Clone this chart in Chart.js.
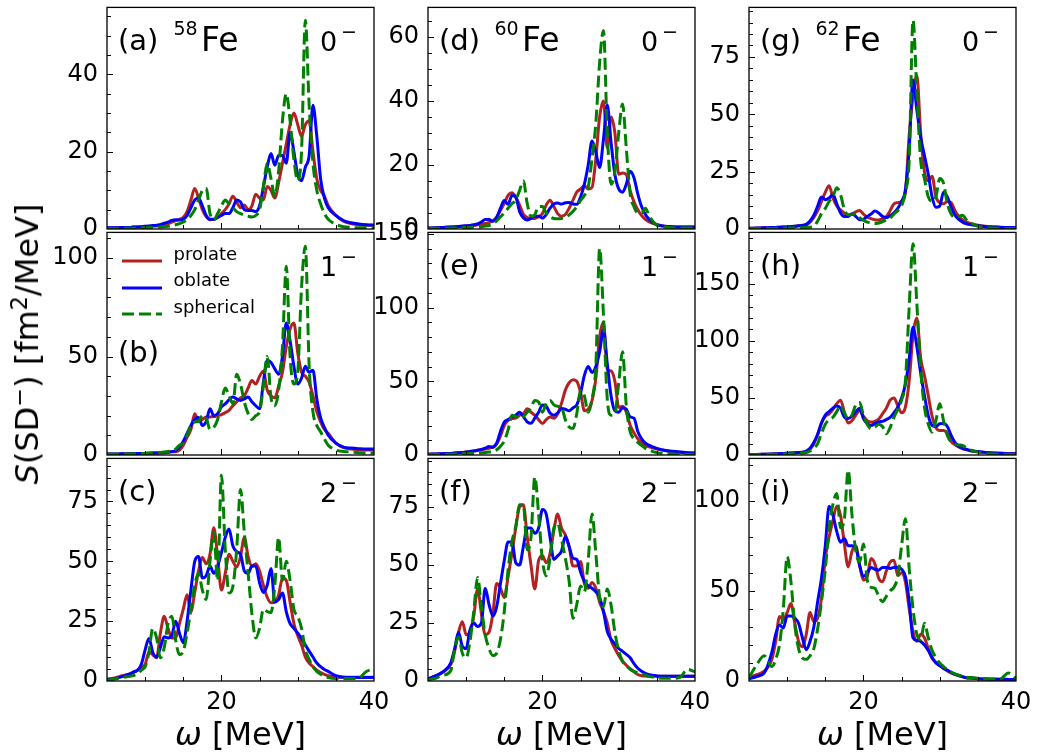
<!DOCTYPE html>
<html>
<head>
<meta charset="utf-8">
<script src="https://cdn.jsdelivr.net/npm/chart.js@4.4.0/dist/chart.umd.min.js"></script>
<style>
body { margin: 0; background: #fff; }
#fig { position: relative; width: 1037px; height: 755px; overflow: hidden; font-family: "DejaVu Sans", sans-serif; color: #000; }
#fig canvas { position: absolute; }
.t { position: absolute; white-space: nowrap; line-height: 1; }
.t sup { font-size: 0.7em; vertical-align: 0.5em; line-height: 0; }
</style>
</head>
<body>
<div id="fig"></div>
<script>
// omega grid (MeV), shared by every panel
const omega = [5,6,7, 8,8.5,9,9.5,10,10.5,11,11.5, 12,12.5,13,13.5,14,14.5,15,15.5,
  16,16.5,17,17.5,18,18.5,19,19.5, 20,20.5,21,21.5,22,22.5,23,23.5,
  24,24.5,25,25.5,26,26.5,27,27.5, 28,28.5,29,29.5,30,30.5,31,31.5,
  32,32.5,33,33.5,34, 35,36,37,38,39,40];
const xTickLabels = [20, 40];

// (a) 58Fe 0-
const prolateA = [0.3,0.3,0.4, 0.4,0.5,0.5,0.5,0.6,0.6,0.7,0.8, 0.9,1.1,1.4,1.8,2.2,2.5,3,4.5, 7.5,10.5,8,5,3.2,2.4,2.5,3, 4,5,6.5,8.5,7,5.5,6.2,5, 6,9,8,7.5,11,10,8,12, 17,22,27,30,27,24,27,28, 20,13,10,8.5,6, 3.5,2,1.4,1.1,1,1];
const oblateA = [0.3,0.3,0.4, 0.4,0.5,0.5,0.6,0.7,0.8,0.9,1.0, 1.2,1.5,1.8,2.2,2.4,2.3,2.5,3.5, 5.5,7.5,8,6,3.5,2.5,2.5,3, 3.5,4,4,5.5,7.5,7,5,4.8, 4.8,4.5,6,10.8,16,19.5,16.5,19, 19,17,25,20,14,12.5,16,19, 32,24,13,8,5.5, 3.5,2.2,1.6,1.3,1.1,1];
const sphericalA = [0.1,0.1,0.2, 0.2,0.2,0.3,0.3,0.3,0.4,0.4,0.5, 0.5,0.6,0.7,0.9,1.1,1.4,1.8,2.5, 3.5,5,7.5,10,10.5,4,2.4,4, 6,7.5,6.5,5.5,4.5,4,3.6,3.3, 3.1,3.5,5,11,17,13,8.5,15, 28,35,28,18,12.5,20,54,32, 17,10,6.5,4,2.5, 1.2,0.6,0.4,0.3,0.3,0.3];
const ticksA = [0, 20, 40];

// (b) 58Fe 1-
const prolateB = [0.5,0.5,0.6, 0.6,0.7,0.7,0.8,0.8,0.9,1.0,1.0, 1.1,1.2,1.4,1.6,1.7,2.5,5,9, 13,21,17,18,19.3,19.3,19.5,20, 20.5,21.5,22.7,25,27,29,30,34, 37.8,36,40,42.5,33,30,29,35, 42,55,64,67,52,42,40,37, 30,22,16.8,13,11, 6,3.8,3,2.7,2.5,2.5];
const oblateB = [0.5,0.5,0.6, 0.6,0.7,0.7,0.8,0.8,0.9,1.0,1.0, 1.1,1.2,1.4,1.7,2.2,4,7,11, 15,18,19,15,17,23.5,20,21, 24.4,26,28,29.4,28.5,27.7,28.5,29.4, 27,25,23.5,37,48,47,43.7,41, 50,67,58,45,36,39,45,42, 43,28.6,19,14,10, 6,4,3.5,3.2,3,3];
const sphericalB = [0.3,0.4,0.5, 0.5,0.6,0.6,0.7,0.8,0.9,1.0,1.1, 1.3,1.5,1.8,2.2,3,5,6,10, 15,16.8,17,20,19,13,14,18, 27,34,30,26,41,36,27,21, 18,20,22,35,50,29,25,33, 55,95.8,50,36,42,85,106,45, 21.8,15,11.8,8,5, 2.5,1.8,1.5,1.2,1,1];
const ticksB = [0, 50, 100];

// (c) 58Fe 2-
const prolateC = [0.8,1.3,2.2, 3,3.6,4.5,5.5,7,12,11,9.7, 20,27,22,18,18,24,30,36, 29,37,46,51.6,49,53,64,52, 38,45,53,50,47.6,52,60,52, 48,49,46,40,35,32.7,33,36, 43,42,33,24,19,15,10,7.5, 6,4.5,3.5,2.8,2.2, 1.7,1.6,1.6,1.6,1.6,1.6];
const oblateC = [0.5,1,1.8, 3,3.8,4.5,7,13,17.8,12,10, 14,18.5,18,19,25,20,16,25, 38,50,52,43,44,48,45,48, 53.6,60,63.5,56.4,54,53,46,45, 48,48,41,37,40,47,33,34, 36.8,29,24,22,20,17.8,15,12.5, 10,7.5,6,4.8,4, 2.2,1.6,1.5,1.5,1.5,1.5];
const sphericalC = [0.3,0.8,1.5, 2,2.3,3,4.5,6,12,22,18, 9.7,14,24,27,17,11,12.4,20, 30,40,45,38,34,50,62,42, 86,55,36.8,39.5,55,80,62,45, 28,18,22,30,29,28.6,40,60, 42,50,42,30,27,22,13,9, 6,4,2.8,2,1.4, 1,1,1,1.2,4,5];
const ticksC = [0, 25, 50, 75];

// (d) 60Fe 0-
const prolateD = [0.3,0.4,0.5, 0.6,0.7,0.7,0.8,0.9,1.0,1.1,1.3, 1.5,1.7,2,2.6,3.8,5.8,8,10.5, 11.3,10,7.5,4.6,3.6,3.3,3.3,3.8, 4.8,7.5,9,7,4.8,4,4.5,6.5, 9,11.5,12.5,13.5,12.5,13,22,35, 40,25.3,35,30,17.1,17.5,17,12, 8.5,6,4.2,3,2.2, 1.4,0.9,0.7,0.6,0.6,0.6];
const oblateD = [0.3,0.4,0.5, 0.6,0.7,0.8,0.9,1.0,1.1,1.3,1.6, 2.2,3,3,2.4,3.5,6.5,8.9,7.7, 10.5,10,5.5,3.5,2.8,3.3,4,4, 3.4,4.5,6.5,7.8,8.1,7.8,8.2,8.3, 7.8,7.7,10,14,20,27.5,24,19.2, 28,38.7,27,17,12.5,11.5,14,18, 16,11,7,4.5,3, 1.3,0.9,0.7,0.6,0.6,0.6];
const sphericalD = [0.1,0.2,0.2, 0.3,0.3,0.4,0.4,0.5,0.5,0.6,0.6, 0.7,0.9,1.1,1.6,2.5,3.8,5,6.5, 7.9,9,12,15,8,4,4.5,7, 7,5,3.8,3.3,3.2,3.3,3.6,4.4, 5.5,7,8.9,10.5,13,22,33,52, 62,30,14,18,30,39,25,11, 7,5,5,6.5,4, 1.2,0.6,0.4,0.3,0.3,0.3];
const ticksD = [0, 20, 40, 60];

// (e) 60Fe 1-
const prolateE = [0.5,0.7,0.9, 1.1,1.3,1.5,1.7,2,2.3,2.7,3.2, 3.7,4.1,4.5,5.5,7.5,13,20,23.5, 24.7,25,27,28,31.3,29,27,24, 21.3,24,25.8,25,28,35,44,49, 51,50,42.4,30,31,36.9,52,80, 90,58,57,50,32.4,33,29,20.2, 15,11,8.5,6.5,5.5, 4,3,2.3,1.8,1.5,1.3];
const oblateE = [0.5,0.7,0.9, 1.1,1.3,1.5,1.7,2,2.3,2.7,3.2, 3.8,4.6,5.8,5.2,8,16,22.4,24, 25.8,27,29,26,22.5,21.5,25,29, 34,33,28.5,27,28.5,31.5,31,30, 32,34,42,54,60,56,60,70, 85,62,40,30,29,32,31,25.8, 25,16,11,8,6.5, 4.5,3.2,2.5,2,1.6,1.3];
const sphericalE = [0.2,0.3,0.4, 0.5,0.6,0.7,0.8,0.9,1.0,1.1,1.3, 1.5,1.7,2,2.4,3.5,6,9.5,17, 27,26,25,26,29,32,37,36, 29,35,37,34,33,32.4,24,19, 18,28,44,40,29,38,60,140, 95,38,27,28,49,70,33,15.8, 11,8.5,6.5,4.5,3.2, 1.6,0.9,0.6,0.5,0.4,0.3];
const ticksE = [0, 50, 100, 150];

// (f) 60Fe 2-
const prolateF = [1,2.2,4, 7.3,13,21,25.6,20,21,28,39.7, 29,20,21,29,42,40,36,45, 55,66,75,76,62.3,50,39.7,52, 54,51,55,65,72,66,63,58, 49.6,49.6,51.5,42,40,42.5,40,34, 30,25,17.5,14,11,8.5,6.8,5.3, 4,2.8,2.3,2.1,2, 2,2,2,2,2,2];
const oblateF = [1,2.2,4, 8,14,21,15,14,22,25,23.5, 25,40,33,28,32,42,52,60, 60,51,50,58,66,66,63.7,66, 74,72,62,52.4,54,56,62.3,58, 53,52.4,47,43,41,40,38.5,36, 30,21.4,18,16,14,12.8,11.5,10, 7.5,5.5,4.2,3.3,2.7, 2.2,2,2,2,2,2];
const sphericalF = [0.5,1.2,2.5, 4.5,14,19,12,10,17,30,44.6, 32,20,14,11,12,18,30,48, 60,66.5,76,76,56.6,62,88,72, 52,45.4,53,66,68,61,53,43, 27,33,41,38.5,52,72,55,36, 32,39.7,32.7,21,13,8.5,6.5,5, 4.2,3.5,3,2.5,2, 1.4,1.2,1.2,1.5,5,4];
const ticksF = [0, 25, 50, 75];

// (g) 62Fe 0-
const prolateG = [0.3,0.4,0.5, 0.7,0.7,0.8,0.9,1.0,1.1,1.2,1.4, 1.5,1.7,3,5,8,12,16,18.9, 13.5,10,8.3,7,6,6.5,7.5,8.1, 6.5,5.2,4.5,4,3.9,4.5,5.3,8, 11,11.5,12,16,41,58,67,42, 25,21,23,14,11.5,11,12,11.5, 8,5.5,4,3,2.4, 1.6,1.2,1,0.8,0.7,0.7];
const oblateG = [0.3,0.4,0.5, 0.7,0.7,0.8,0.9,1.0,1.1,1.2,1.4, 1.6,2,3.5,6,10,13.9,12.8,13.5, 15,11,7,5.5,5.5,6.7,5.5,4, 4.2,5.5,6.5,7.8,7,5.5,5,5.8, 7,9,12,17,35,65,52,40, 32,23.9,14,9.5,10,16,14,9.5, 6,4.2,3,2.3,1.9, 1.4,1,0.8,0.7,0.6,0.6];
const sphericalG = [0.1,0.2,0.2, 0.2,0.3,0.3,0.3,0.4,0.4,0.5,0.5, 0.6,0.7,0.8,1.2,3.5,6.7,9,12, 14,18,15,8.5,6.2,6.3,6.7,5, 3.8,3,2.7,2.4,2.6,3.2,3.9,4.8, 6.5,8,10,16,30,91,60,30, 22,14,12,14,22,20,11,6.5, 5,5.5,6,4,2.8, 1.2,0.6,0.4,0.3,0.2,0.2];
const ticksG = [0, 25, 50, 75];

// (h) 62Fe 1-
const prolateH = [0.4,0.5,0.7, 0.9,1,1.1,1.3,1.5,1.7,1.9,2.2, 2.4,2.6,5,10,18,28,34,36, 40,45,48,37.5,28,30,35,39, 34,30,28.8,29.5,31.5,36,41,48, 50,43.3,37,42,65,105,120,85, 69.5,52,34,24,21.5,21.5,19,12, 9,7,5.5,4.5,3.8, 2.8,2.2,1.8,1.5,1.3,1.2];
const oblateH = [0.4,0.5,0.7, 0.9,1,1.1,1.3,1.5,1.7,1.9,2.2, 2.5,3.5,6,11,18,28,35,38, 41,43,41,33.1,32,34,38,41, 32,27.5,25.9,27.5,29,29.5,31,33, 37,41.9,50,62,84,112,95,72, 52,34.6,26,25,27.3,27.5,25,17.2, 11,7.5,6,5,4, 3,2.3,1.8,1.5,1.2,1];
const sphericalH = [0.2,0.3,0.4, 0.5,0.6,0.7,0.8,0.9,1.0,1.2,1.4, 1.7,2.2,3.5,6,10,19,27,31, 33,38,43,37,31.7,35,44,46, 35,27,23,24.5,27,25,18.6,24, 33,40,48,65,130,185,133,75, 42,27,20,30,44.8,30,17,11.3, 9.5,8.8,8.4,6,4.5, 2.5,1.4,0.9,0.6,0.5,0.4];
const ticksH = [0, 50, 100, 150];

// (i) 62Fe 2-
const prolateI = [1.8,3.5,5.5, 12,22,35.8,34,38,43,32,22, 19,25.7,38,33,35,46,68,80, 89,97,92,76,63.3,72,75,64.2, 56,58,67.9,65,57,55,61,66, 67,58.7,60,55,40,27.5,22,26, 24,18,12.8,10.5,9,7,5.6,4.5, 3.6,2.9,2.3,1.8,1.6, 1.3,1.1,1,1,0.9,0.9];
const oblateI = [1.2,2.5,4.5, 16,26,31,29.4,36,36,34.9,32, 24,17.4,22,30,44,57,75,97, 92,83,77,79,75,75,74,64.2, 58,60,63,62,61.5,63,63,62.4, 63,63,62,58,44,23.9,22.5,22, 20,17,13,10,8.5,7,6,4.8, 3.8,3,2.4,1.8,1.6, 1.3,1.1,1,1,0.9,0.9];
const sphericalI = [1.8,9,14, 8,12,20.2,40,69,55,31.2,18, 12.8,12,14,18,29,44,62,85, 98,104,85,90,117,92,72,66, 76,56,52,51.4,47,44,47,50, 52,58,75,90,62.4,40,26,23, 32,24,17,13,10,8,6.2,5, 4,3.2,2.6,2.1,1.9, 1.5,1.2,1.1,1.3,4.5,1.5];
const ticksI = [0, 50, 100];

const tags = ['a', 'b', 'c', 'd', 'e', 'f', 'g', 'h', 'i'];
const nuclei = ['58', '60', '62'];
const multipoles = ['0', '1', '2'];
const seriesNames = ['prolate', 'oblate', 'spherical'];

const panels = [
  { pro: prolateA, obl: oblateA, sph: sphericalA, ticks: ticksA, ymax: 57.3, minor: 5 },
  { pro: prolateB, obl: oblateB, sph: sphericalB, ticks: ticksB, ymax: 113, minor: 10 },
  { pro: prolateC, obl: oblateC, sph: sphericalC, ticks: ticksC, ymax: 93, minor: 5 },
  { pro: prolateD, obl: oblateD, sph: sphericalD, ticks: ticksD, ymax: 69.2, minor: 5 },
  { pro: prolateE, obl: oblateE, sph: sphericalE, ticks: ticksE, ymax: 151, minor: 10 },
  { pro: prolateF, obl: oblateF, sph: sphericalF, ticks: ticksF, ymax: 96, minor: 5 },
  { pro: prolateG, obl: oblateG, sph: sphericalG, ticks: ticksG, ymax: 96.6, minor: 5 },
  { pro: prolateH, obl: oblateH, sph: sphericalH, ticks: ticksH, ymax: 195, minor: 10 },
  { pro: prolateI, obl: oblateI, sph: sphericalI, ticks: ticksI, ymax: 123.5, minor: 10 },
];

const RED = '#b22222', BLUE = '#0000ff', GREEN = '#008000';
const colLeft = [107, 428, 749], rowTop = [4, 229, 455], rowH = [225, 226, 226];
const plotW = 267;
const PADL = 80, PADT = 20, PADR = 30, XAX = 80;
const fig = document.getElementById('fig');

// frame box + inward ticks, like the matplotlib axes
const frameTicks = {
  id: 'frameTicks',
  afterDatasetsDraw(chart, args, opts) {
    const { ctx, chartArea: a, scales: { x, y } } = chart;
    ctx.save();
    ctx.strokeStyle = '#000';
    ctx.lineWidth = 1;
    ctx.beginPath();
    for (let v = 10; v < 40; v += 5) {
      const px = Math.round(x.getPixelForValue(v)) + 0.5;
      const len = xTickLabels.includes(v) ? 6 : 4;
      ctx.moveTo(px, a.bottom);
      ctx.lineTo(px, a.bottom - len);
    }
    for (let v = opts.minor; v < y.max; v += opts.minor) {
      const py = Math.round(y.getPixelForValue(v)) + 0.5;
      const len = opts.major.includes(v) ? 6 : 4;
      ctx.moveTo(a.left, py);
      ctx.lineTo(a.left + len, py);
    }
    ctx.stroke();
    ctx.lineWidth = 1.3;
    ctx.strokeRect(a.left, a.top, a.right - a.left, a.bottom - a.top);
    ctx.restore();
  }
};

function pts(arr) {
  return omega.map((w, i) => ({ x: w, y: arr[i] }));
}

function addText(html, x, baseline, size, extra) {
  const d = document.createElement('div');
  d.className = 't';
  d.innerHTML = html;
  d.style.left = x + 'px';
  d.style.top = (baseline - 0.846 * size) + 'px';
  d.style.fontSize = size + 'px';
  if (extra) Object.assign(d.style, extra);
  fig.appendChild(d);
  return d;
}

panels.forEach((p, k) => {
  const col = Math.floor(k / 3), row = k % 3;
  const L = colLeft[col], T = rowTop[row], H = rowH[row];
  const cv = document.createElement('canvas');
  cv.width = PADL + plotW + PADR;
  cv.height = PADT + H + XAX;
  cv.style.left = (L - PADL) + 'px';
  cv.style.top = (T - PADT) + 'px';
  fig.appendChild(cv);

  const tickFont = { family: 'DejaVu Sans', size: 24 };
  new Chart(cv, {
    type: 'line',
    data: {
      datasets: [
        { label: seriesNames[2], data: pts(p.sph), borderColor: GREEN, borderDash: [12, 5], order: 0 },
        { label: seriesNames[1], data: pts(p.obl), borderColor: BLUE, order: 1 },
        { label: seriesNames[0], data: pts(p.pro), borderColor: RED, order: 2 },
      ]
    },
    options: {
      responsive: false,
      animation: false,
      layout: { padding: { left: 0, top: PADT, right: PADR, bottom: 0 } },
      elements: {
        point: { radius: 0 },
        line: { borderWidth: 3, cubicInterpolationMode: 'monotone', fill: false, borderJoinStyle: 'round' }
      },
      plugins: {
        legend: { display: false },
        tooltip: { enabled: false },
        frameTicks: { minor: p.minor, major: p.ticks }
      },
      scales: {
        x: {
          type: 'linear', min: 5, max: 40,
          grid: { display: false, drawTicks: false },
          border: { display: false },
          afterBuildTicks: s => { s.ticks = xTickLabels.map(v => ({ value: v })); },
          afterFit: s => { s.height = XAX; },
          ticks: { display: row === 2, padding: 7, color: '#000', font: tickFont, autoSkip: false, maxRotation: 0 }
        },
        y: {
          type: 'linear', min: 0, max: p.ymax,
          grid: { display: false, drawTicks: false },
          border: { display: false },
          afterBuildTicks: s => { s.ticks = p.ticks.map(v => ({ value: v })); },
          afterFit: s => { s.width = PADL; },
          ticks: { padding: 9, color: '#000', font: tickFont, autoSkip: false }
        }
      }
    },
    plugins: [frameTicks]
  });

  // panel texts
  const bl = T + 46.5;
  if (k === 1) addText('(' + tags[k] + ')', L + 11, T + 134, 29);
  else addText('(' + tags[k] + ')', L + 11, bl, 29);
  if (row === 0) {
    addText(nuclei[col], L + 66.5, T + 31.5, 19);
    addText('Fe', L + 94, bl, 33);
  }
  addText(multipoles[row], L + 213, bl, 27);
  addText('\u2212', L + 234, T + 34.4, 19);

  if (row === 2) {
    const d = addText('<i>\u03c9</i> [MeV]', L + plotW / 2, 745, 32);
    d.style.transform = 'translateX(-50%)';
  }
});

// legend inside panel (b)
const legendColors = [RED, BLUE, GREEN];
const legendDash = ['', '', '12 5'];
seriesNames.forEach((name, i) => {
  const L = colLeft[0], T = rowTop[1];
  const lineY = T + 25.3 + i * 26.2;
  const s = document.createElement('div');
  s.className = 't';
  s.style.left = (L + 14.7) + 'px';
  s.style.top = (lineY - 3) + 'px';
  s.innerHTML = '<svg width="40" height="6"><line x1="0" y1="3" x2="40" y2="3" stroke="' + legendColors[i] +
    '" stroke-width="3" stroke-dasharray="' + legendDash[i] + '"/></svg>';
  fig.appendChild(s);
  addText(name, L + 66.5, T + 31 + i * 26.6, 18);
});

// shared y axis title
const yt = addText('<i>S</i>(SD<sup>\u2212</sup>) [fm<sup>2</sup>/MeV]', 27, 344, 32);
yt.style.top = '344px';
yt.style.transform = 'translate(-50%, -50%) rotate(-90deg)';
</script>
</body>
</html>
